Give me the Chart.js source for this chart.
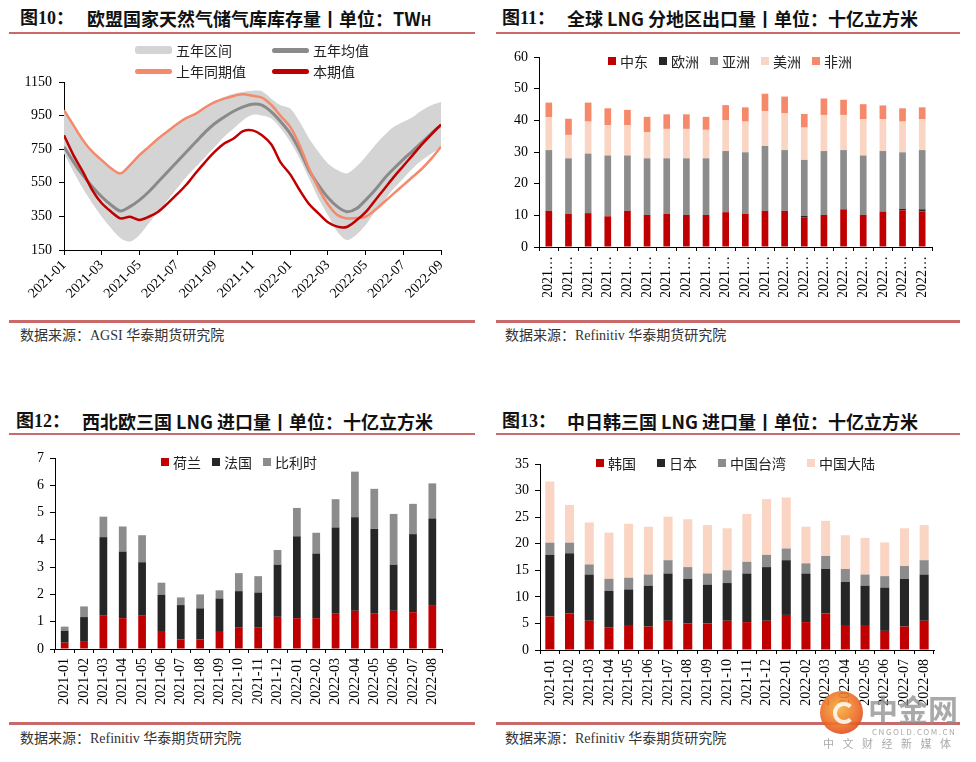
<!DOCTYPE html>
<html>
<head>
<meta charset="utf-8">
<title>LNG</title>
<script src="https://cdn.jsdelivr.net/npm/chart.js@4.4.1/dist/chart.umd.min.js"></script>
<style>
  body { margin: 0; background: #fff; }
  #page { position: relative; width: 976px; height: 762px; overflow: hidden; font-family: "Noto Sans CJK SC", sans-serif; }
  .title { position: absolute; font-size: 18px; font-weight: bold; color: #111; white-space: nowrap; line-height: 20px; }
  .serif { font-family: "Liberation Serif", "Noto Sans CJK SC", serif; }
  .rule { position: absolute; background: #c86a6a; }
  .src { position: absolute; font-family: "Liberation Serif", "Noto Sans CJK SC", serif; font-size: 14px; color: #333; white-space: nowrap; line-height: 16px; }
  .panel { position: absolute; }
  .legend { position: absolute; display: flex; align-items: center; font-size: 14px; color: #222; white-space: nowrap; line-height: 16px; }
  .legend .sw { display: inline-block; width: 8px; height: 8px; margin-right: 4px; }
  .lg2 { position: absolute; font-size: 14px; color: #222; line-height: 16px; white-space: nowrap; }
  .lg2 .bar { position: absolute; width: 37px; border-radius: 3px; }
  .wm { position: absolute; color: rgba(140,140,140,0.75); white-space: nowrap; }
</style>
</head>
<body>
<div id="page">
  <!-- titles -->
  <div class="title serif" style="left:20px;top:8px">图10：</div>
  <div class="title" style="left:87px;top:8px">欧盟国家天然气储气库库存量丨单位：TW<span style="font-size:14px">H</span></div>
  <div class="title serif" style="left:502px;top:8px">图11：</div>
  <div class="title" style="left:567px;top:8px">全球 LNG 分地区出口量丨单位：十亿立方米</div>
  <div class="title serif" style="left:16px;top:411px">图12：</div>
  <div class="title" style="left:82px;top:411px">西北欧三国 LNG 进口量丨单位：十亿立方米</div>
  <div class="title serif" style="left:502px;top:411px">图13：</div>
  <div class="title" style="left:567px;top:411px">中日韩三国 LNG 进口量丨单位：十亿立方米</div>

  <div class="rule" style="left:9px;top:32px;width:466px;height:2px"></div>
  <div class="rule" style="left:496px;top:32px;width:464px;height:2px"></div>
  <div class="rule" style="left:9px;top:433px;width:466px;height:2px"></div>
  <div class="rule" style="left:496px;top:433px;width:464px;height:2px"></div>
  <div class="rule" style="left:9px;top:320px;width:466px;height:3px"></div>
  <div class="rule" style="left:496px;top:320px;width:464px;height:3px"></div>
  <div class="rule" style="left:9px;top:722px;width:466px;height:3px"></div>
  <div class="rule" style="left:496px;top:722px;width:464px;height:3px"></div>

  <div class="src" style="left:20px;top:328px">数据来源：AGSI 华泰期货研究院</div>
  <div class="src" style="left:505px;top:328px">数据来源：Refinitiv 华泰期货研究院</div>
  <div class="src" style="left:20px;top:731px">数据来源：Refinitiv 华泰期货研究院</div>
  <div class="src" style="left:505px;top:731px">数据来源：Refinitiv 华泰期货研究院</div>

  <div class="panel" style="left:0;top:40px"><canvas id="c10" width="480" height="275"></canvas></div>
  <div class="panel" style="left:490px;top:40px"><canvas id="c11" width="480" height="275"></canvas></div>
  <div class="panel" style="left:0;top:440px"><canvas id="c12" width="480" height="280"></canvas></div>
  <div class="panel" style="left:490px;top:440px"><canvas id="c13" width="480" height="280"></canvas></div>

  <!-- watermark -->
  <div class="wm" style="left:820px;top:691px;width:43px;height:43px;border-radius:50%;background:radial-gradient(circle at 45% 40%, #f6b03c 0%, #ec6a26 55%, #d12a1c 100%);opacity:0.9"></div>
  <div class="wm" style="left:833px;top:702px;width:14px;height:14px;border-radius:50%;border:4px solid rgba(255,255,255,0.85);border-right-color:transparent"></div>
  <div class="wm" style="left:868px;top:692px;font-size:30px;font-weight:bold;line-height:32px">中金网</div>
  <div class="wm" style="left:872px;top:727px;font-size:8px;letter-spacing:1.5px;line-height:9px">CNGOLD.COM.CN</div>
  <div class="wm" style="left:823px;top:737px;font-size:11px;letter-spacing:8.5px;line-height:12px">中文财经新媒体</div>
</div>

<script>
// ---------- 图10 欧盟储气库库存 (TWh), x = months after 2021-01, read every half month
const monthPos = [0, 0.5, 1, 1.5, 2, 2.5, 3, 3.5, 4, 4.5, 5, 5.5, 6, 6.5, 7, 7.5, 8, 8.5, 9, 9.5,
  10, 10.5, 11, 11.5, 12, 12.5, 13, 13.5, 14, 14.5, 15, 15.5, 16, 16.5, 17, 17.5, 18, 18.5, 19, 19.5, 20];
const storageTicks = ['2021-01', '2021-03', '2021-05', '2021-07', '2021-09', '2021-11',
  '2022-01', '2022-03', '2022-05', '2022-07', '2022-09'];
const rangeHigh = [985, 897, 808, 740, 690, 640, 612, 660, 720, 770, 818, 862, 905, 942, 968, 1006, 1038, 1060, 1080, 1092,
  1098, 1095, 1051, 1012, 992, 913, 814, 735, 665, 626, 606, 645, 705, 774, 833, 883, 913, 942, 982, 1012, 1031];
const rangeLow = [724, 616, 517, 428, 348, 279, 220, 200, 240, 309, 378, 447, 517, 586, 645, 705, 764, 824, 873, 923,
  955, 950, 932, 873, 794, 695, 576, 457, 358, 259, 210, 240, 299, 378, 447, 517, 576, 635, 685, 725, 760];
const fiveYearAvg = [764, 675, 596, 527, 467, 418, 382, 408, 447, 497, 556, 616, 675, 735, 794, 853, 903, 942, 976, 1002,
  1018, 1012, 972, 913, 843, 744, 625, 536, 462, 408, 378, 395, 447, 507, 576, 635, 690, 740, 792, 845, 893];
const lastYear = [982, 893, 804, 735, 685, 636, 606, 655, 715, 764, 814, 857, 900, 936, 962, 1000, 1030, 1051, 1067, 1077,
  1068, 1057, 1013, 947, 883, 774, 635, 517, 422, 358, 338, 340, 348, 388, 437, 487, 536, 586, 635, 695, 764];
const thisYear = [833, 715, 616, 507, 428, 378, 338, 348, 329, 348, 378, 428, 482, 540, 610, 675, 735, 784, 814, 857,
  862, 833, 778, 670, 600, 507, 424, 368, 315, 289, 287, 325, 375, 445, 515, 585, 650, 715, 780, 840, 897];

// ---------- bar charts: months
const months = ['2021-01', '2021-02', '2021-03', '2021-04', '2021-05', '2021-06', '2021-07', '2021-08', '2021-09', '2021-10',
  '2021-11', '2021-12', '2022-01', '2022-02', '2022-03', '2022-04', '2022-05', '2022-06', '2022-07', '2022-08'];

// 图11 全球LNG分地区出口量
const exMidEast = [11.4, 10.5, 10.5, 9.7, 11.4, 10.1, 10.5, 10.1, 10.1, 11.0, 10.5, 11.4, 11.4, 9.4, 10.1, 11.9, 10.1, 11.2, 11.6, 11.2];
const exEurope = [0, 0, 0.3, 0, 0, 0, 0, 0, 0, 0, 0, 0, 0, 0.4, 0, 0, 0, 0, 0.4, 0.7];
const exAsia = [19.2, 17.5, 18.7, 19.2, 17.5, 17.9, 17.5, 17.9, 17.9, 19.3, 19.4, 20.5, 19.2, 17.7, 20.2, 18.7, 18.8, 19.1, 17.9, 18.7];
const exAmerica = [10.4, 7.4, 10.1, 9.6, 9.6, 8.2, 9.3, 9.3, 9.0, 9.7, 9.7, 11.0, 11.6, 10.2, 11.4, 11.1, 11.5, 10.1, 9.7, 9.8];
const exAfrica = [4.6, 5.1, 6.0, 5.3, 4.8, 4.9, 4.6, 4.6, 4.1, 4.8, 4.5, 5.5, 5.3, 4.3, 5.2, 4.8, 4.7, 4.3, 4.2, 3.7];

// 图12 西北欧三国LNG进口量
const imNetherlands = [0.23, 0.29, 1.24, 1.13, 1.24, 0.66, 0.35, 0.35, 0.66, 0.80, 0.80, 1.18, 1.13, 1.13, 1.29, 1.40, 1.29, 1.40, 1.35, 1.61];
const imFrance = [0.44, 0.88, 2.86, 2.44, 1.94, 1.33, 1.26, 1.14, 1.19, 1.32, 1.27, 1.91, 3.00, 2.37, 3.16, 3.43, 3.11, 1.69, 2.86, 3.17];
const imBelgium = [0.15, 0.39, 0.75, 0.92, 0.99, 0.44, 0.28, 0.51, 0.30, 0.66, 0.60, 0.54, 1.04, 0.76, 1.04, 1.67, 1.47, 1.86, 1.11, 1.29];

// 图13 中日韩三国LNG进口量
const imKorea = [6.3, 6.9, 5.5, 4.2, 4.7, 4.4, 5.5, 5.0, 5.0, 5.5, 5.25, 5.5, 6.6, 5.25, 6.9, 4.7, 4.7, 3.6, 4.4, 5.5];
const imJapan = [11.6, 11.3, 8.7, 6.9, 6.7, 7.7, 8.9, 8.4, 7.3, 7.1, 9.15, 10.1, 10.3, 9.15, 8.35, 8.1, 7.4, 8.15, 9.0, 8.7];
const imTaiwan = [2.3, 2.0, 1.9, 2.3, 2.2, 2.1, 2.5, 2.2, 2.1, 2.4, 2.2, 2.3, 2.2, 1.9, 2.45, 2.45, 2.1, 2.15, 2.4, 2.7];
const imMainland = [11.5, 7.1, 7.9, 8.7, 10.15, 9.0, 8.2, 9.0, 9.1, 7.9, 9.0, 10.5, 9.6, 6.9, 6.6, 6.35, 6.9, 6.35, 7.1, 6.6];

const RED = '#c00000', BLACK = '#262626', GRAY = '#8c8c8c', PEACH = '#fbd5c3', ORANGE = '#f6896a';

Chart.defaults.font.family = '"Liberation Serif", serif';
Chart.defaults.font.size = 14;
Chart.defaults.color = '#000';
Chart.defaults.animation = false;

const tickFont = { family: '"Liberation Serif", serif', size: 14 };

function yAxis(min, max, step, w, pad) {
  return {
    min: min, max: max, stacked: true,
    ticks: { stepSize: step, color: '#000', font: tickFont, padding: pad || 6, callback: v => String(v) },
    grid: { drawOnChartArea: false, tickLength: 5, color: '#000' },
    border: { color: '#000', width: 1 },
    afterFit: s => { s.width = w; }
  };
}

function barX(h, short) {
  const t = { minRotation: 90, maxRotation: 90, autoSkip: false, padding: 5, font: tickFont, color: '#000' };
  if (short) t.callback = function (v) { return this.getLabelForValue(v).slice(0, 4) + '…'; };
  return {
    type: 'category', stacked: true,
    ticks: t,
    grid: { drawOnChartArea: false, tickLength: 4, color: '#000', offset: true },
    border: { color: '#000', width: 1 },
    afterFit: s => { s.height = h; }
  };
}

function legend(left, top, names, colors, gap) {
  const d = document.createElement('div');
  d.className = 'legend';
  d.style.left = left + 'px';
  d.style.top = top + 'px';
  d.style.gap = gap + 'px';
  names.forEach((n, i) => {
    const it = document.createElement('span');
    it.innerHTML = '<span class="sw" style="background:' + colors[i] + '"></span>' + n;
    it.style.display = 'flex';
    it.style.alignItems = 'center';
    d.appendChild(it);
  });
  document.getElementById('page').appendChild(d);
}

// ---------- 图10
const c10y = yAxis(150, 1150, 200, 50, 7);
c10y.stacked = false;
new Chart(document.getElementById('c10'), {
  type: 'line',
  data: {
    datasets: [
      { label: '本期值', data: monthPos.map((x, i) => ({ x: x, y: thisYear[i] })), borderColor: RED, borderWidth: 2.5, pointRadius: 0, tension: 0.3, order: 0 },
      { label: '上年同期值', data: monthPos.map((x, i) => ({ x: x, y: lastYear[i] })), borderColor: '#f48a6c', borderWidth: 2.5, pointRadius: 0, tension: 0.3, order: 1 },
      { label: '五年均值', data: monthPos.map((x, i) => ({ x: x, y: fiveYearAvg[i] })), borderColor: '#8a8a8a', borderWidth: 3, pointRadius: 0, tension: 0.3, order: 2 },
      { label: '五年区间', data: monthPos.map((x, i) => ({ x: x, y: rangeHigh[i] })), borderWidth: 0, borderColor: 'rgba(0,0,0,0)', backgroundColor: '#d4d4d4', fill: '+1', pointRadius: 0, tension: 0.3, order: 3 },
      { label: 'low', data: monthPos.map((x, i) => ({ x: x, y: rangeLow[i] })), borderWidth: 0, borderColor: 'rgba(0,0,0,0)', fill: false, pointRadius: 0, tension: 0.3, order: 4 }
    ]
  },
  options: {
    responsive: false,
    layout: { padding: { left: 14, right: 39, top: 42, bottom: 5 } },
    plugins: { legend: { display: false }, tooltip: { enabled: false }, filler: { drawTime: 'beforeDatasetsDraw' } },
    scales: {
      x: {
        type: 'linear', min: 0, max: 20,
        ticks: { stepSize: 2, autoSkip: false, minRotation: 45, maxRotation: 45, padding: 2, font: tickFont, color: '#000',
          callback: v => storageTicks[v / 2] },
        grid: { drawOnChartArea: false, tickLength: 5, color: '#000' },
        border: { color: '#000', width: 1 },
        afterFit: s => { s.height = 60; }
      },
      y: c10y
    }
  }
});

// legend for 图10 (two rows)
(function () {
  const items = [
    ['五年区间', '#d4d4d4', 8, 135, 50],
    ['五年均值', '#8a8a8a', 5, 272, 50],
    ['上年同期值', '#f48a6c', 5, 135, 71],
    ['本期值', RED, 5, 272, 71]
  ];
  const page = document.getElementById('page');
  items.forEach(it => {
    const b = document.createElement('div');
    b.className = 'lg2';
    b.style.left = it[3] + 'px';
    b.style.top = (it[4] - 8) + 'px';
    b.innerHTML = '<span class="bar" style="left:0;top:' + (8 - it[2] / 2) + 'px;height:' + it[2] + 'px;background:' + it[1] + '"></span>' +
      '<span style="position:absolute;left:41px;top:0">' + it[0] + '</span>';
    page.appendChild(b);
  });
})();

// ---------- 图11
new Chart(document.getElementById('c11'), {
  type: 'bar',
  data: {
    labels: months,
    datasets: [
      { label: '中东', data: exMidEast, backgroundColor: RED },
      { label: '欧洲', data: exEurope, backgroundColor: BLACK },
      { label: '亚洲', data: exAsia, backgroundColor: GRAY },
      { label: '美洲', data: exAmerica, backgroundColor: PEACH },
      { label: '非洲', data: exAfrica, backgroundColor: ORANGE }
    ]
  },
  options: {
    responsive: false,
    datasets: { bar: { categoryPercentage: 1, barPercentage: 0.34, borderWidth: 0 } },
    layout: { padding: { left: 9, right: 38, top: 17, bottom: 18 } },
    plugins: { legend: { display: false }, tooltip: { enabled: false } },
    scales: {
      x: barX(50, true),
      y: yAxis(0, 60, 10, 40)
    }
  }
});
legend(608, 53, ['中东', '欧洲', '亚洲', '美洲', '非洲'], [RED, BLACK, GRAY, PEACH, ORANGE], 11);

// ---------- 图12
new Chart(document.getElementById('c12'), {
  type: 'bar',
  data: {
    labels: months,
    datasets: [
      { label: '荷兰', data: imNetherlands, backgroundColor: RED },
      { label: '法国', data: imFrance, backgroundColor: BLACK },
      { label: '比利时', data: imBelgium, backgroundColor: GRAY }
    ]
  },
  options: {
    responsive: false,
    datasets: { bar: { categoryPercentage: 1, barPercentage: 0.4, borderWidth: 0 } },
    layout: { padding: { left: 15, right: 38, top: 18, bottom: 11 } },
    plugins: { legend: { display: false }, tooltip: { enabled: false } },
    scales: {
      x: barX(60, false),
      y: yAxis(0, 7, 1, 40)
    }
  }
});
legend(161, 454, ['荷兰', '法国', '比利时'], [RED, BLACK, GRAY], 11);

// ---------- 图13
new Chart(document.getElementById('c13'), {
  type: 'bar',
  data: {
    labels: months,
    datasets: [
      { label: '韩国', data: imKorea, backgroundColor: RED },
      { label: '日本', data: imJapan, backgroundColor: BLACK },
      { label: '中国台湾', data: imTaiwan, backgroundColor: GRAY },
      { label: '中国大陆', data: imMainland, backgroundColor: PEACH }
    ]
  },
  options: {
    responsive: false,
    datasets: { bar: { categoryPercentage: 1, barPercentage: 0.46, borderWidth: 0 } },
    layout: { padding: { left: 10, right: 36, top: 24, bottom: 10 } },
    plugins: { legend: { display: false }, tooltip: { enabled: false } },
    scales: {
      x: barX(60, false),
      y: yAxis(0, 35, 5, 40)
    }
  }
});
legend(596, 455, ['韩国', '日本', '中国台湾', '中国大陆'], [RED, BLACK, GRAY, PEACH], 21);
</script>
</body>
</html>
